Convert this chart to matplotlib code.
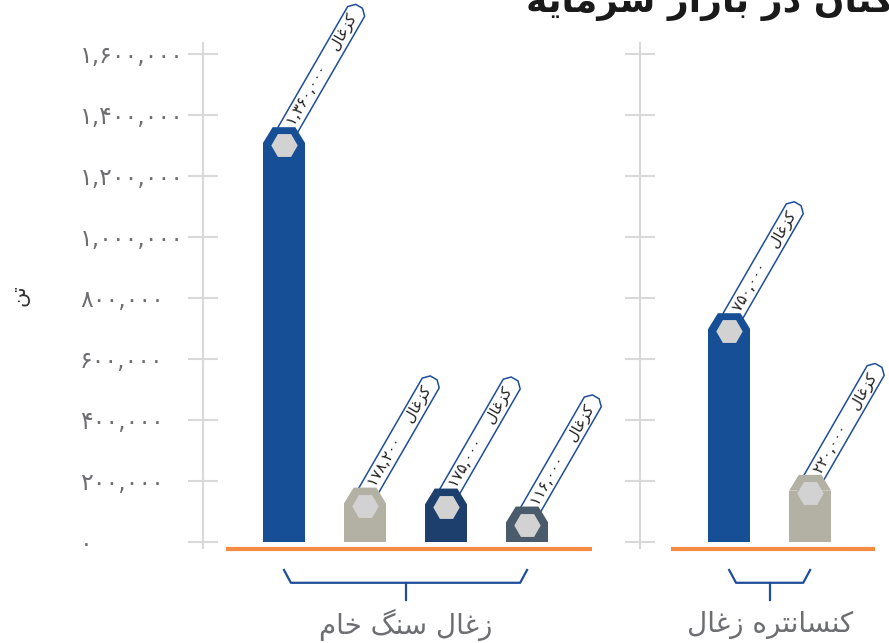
import matplotlib.pyplot as plt
from matplotlib.path import Path

# chart data
title = 'کنان در بازار سرمایه'
y_label = 'تن'
groups = ['زغال سنگ خام', 'کنسانتره زغال']
unit_word = 'کزغال'
raw_values = [1360000, 178200, 175000, 116000]
raw_colors = ['#174f96', '#b3b0a4', '#1d3f6e', '#4a5b6c']
conc_values = [750000, 220000]
conc_colors = ['#174f96', '#b3b0a4']
y_ticks = [0, 200000, 400000, 600000, 800000, 1000000, 1200000, 1400000, 1600000]

FA_DIGITS = str.maketrans('0123456789', '۰۱۲۳۴۵۶۷۸۹')

# arabic presentation forms: isolated, final, initial, medial
FORMS = {
    'ا': (0xFE8D, 0xFE8E, None, None),
    'ب': (0xFE8F, 0xFE90, 0xFE91, 0xFE92),
    'ت': (0xFE95, 0xFE96, 0xFE97, 0xFE98),
    'خ': (0xFEA5, 0xFEA6, 0xFEA7, 0xFEA8),
    'د': (0xFEA9, 0xFEAA, None, None),
    'ر': (0xFEAD, 0xFEAE, None, None),
    'ز': (0xFEAF, 0xFEB0, None, None),
    'س': (0xFEB1, 0xFEB2, 0xFEB3, 0xFEB4),
    'غ': (0xFECD, 0xFECE, 0xFECF, 0xFED0),
    'ل': (0xFEDD, 0xFEDE, 0xFEDF, 0xFEE0),
    'م': (0xFEE1, 0xFEE2, 0xFEE3, 0xFEE4),
    'ن': (0xFEE5, 0xFEE6, 0xFEE7, 0xFEE8),
    'ه': (0xFEE9, 0xFEEA, 0xFEEB, 0xFEEC),
    'ک': (0xFB8E, 0xFB8F, 0xFB90, 0xFB91),
    'گ': (0xFB92, 0xFB93, 0xFB94, 0xFB95),
    'ی': (0xFBFC, 0xFBFD, 0xFBFE, 0xFBFF),
}


def shape(s):
    # join letters and return in visual (left to right) order
    out = []
    for i, ch in enumerate(s):
        if ch not in FORMS:
            out.append(ch)
            continue
        prev = s[i - 1] if i > 0 else None
        nxt = s[i + 1] if i + 1 < len(s) else None
        p = prev in FORMS and FORMS[prev][2] is not None
        n = nxt in FORMS and FORMS[ch][2] is not None
        iso, fin, ini, med = FORMS[ch]
        if p and n:
            c = med
        elif p:
            c = fin
        elif n:
            c = ini
        else:
            c = iso
        out.append(chr(c))
    return ''.join(out)[::-1]


def fa_num(v):
    return f'{v:,}'.translate(FA_DIGITS)


def band(x0, y0, width, height, mutation_size):
    # flag shaped label box, pointed at the far end
    pad = 0.3 * mutation_size
    x0 -= 1.6 * mutation_size
    width += 1.6 * mutation_size + pad
    y0 -= 0.15 * mutation_size
    height += 0.3 * mutation_size
    x1, y1 = x0 + width, y0 + height
    t = height * 0.3
    verts = [(x0, y0), (x1, y0), (x1 + t, y0 + t), (x1 + t, y1 - t), (x1, y1), (x0, y1), (x0, y0)]
    codes = [Path.MOVETO] + [Path.LINETO] * 5 + [Path.CLOSEPOLY]
    return Path(verts, codes)


blue = '#1f4e99'
grid_grey = '#d9d9d9'
text_grey = '#6d6e71'
orange = '#f58a42'
bar_w = 0.52
cap_dx = 0.12
cap_dy = 52000
hex_dy = 59000

fig = plt.figure(figsize=(8.89, 6.43), dpi=100)
ax1 = fig.add_axes([0.2283, 0.1477, 0.4466, 0.7854])
ax2 = fig.add_axes([0.72, 0.1477, 0.2801, 0.7854])


def draw_group(ax, values, colors, name):
    xs = list(range(len(values)))
    ax.bar(xs, [v - cap_dy for v in values], width=bar_w, color=colors, zorder=3)
    for x, v, c in zip(xs, values, colors):
        ax.fill([x - bar_w / 2, x - bar_w / 2 + cap_dx, x + bar_w / 2 - cap_dx, x + bar_w / 2],
                [v - cap_dy, v, v, v - cap_dy], color=c, lw=0, zorder=3)
        ax.plot(x, v - hex_dy, marker='H', ms=19, color='#d2d2d2', mec='none', zorder=4)
        txt = fa_num(v) + '    ' + shape(unit_word)
        ax.annotate(txt, xy=(x, v), xytext=(5, 2), textcoords='offset points',
                    rotation=60, rotation_mode='anchor', ha='left', va='center',
                    fontsize=11, color='#222222', zorder=2, annotation_clip=False,
                    bbox=dict(boxstyle=band, fc='white', ec=blue, lw=1.1))
    # orange baseline
    ax.plot([-0.72, xs[-1] + 0.8], [-23000, -23000], color=orange, lw=3,
            solid_capstyle='butt', clip_on=False, zorder=3)
    # bracket under the group
    lo, hi, mid = 0, xs[-1], xs[-1] / 2
    ax.plot([lo, lo + 0.085, hi - 0.085, hi], [-92000, -134000, -134000, -92000],
            color=blue, lw=1.6, clip_on=False)
    ax.plot([mid, mid], [-134000, -190000], color=blue, lw=1.6, clip_on=False)
    ax.text(mid, -272000, shape(name), ha='center', va='center', fontsize=20,
            color=text_grey, clip_on=False)


draw_group(ax1, raw_values, raw_colors, groups[0])
draw_group(ax2, conc_values, conc_colors, groups[1])

ax1.set_xlim(-1.0, 3.9)
ax2.set_xlim(-1.1, 1.975)
for ax in (ax1, ax2):
    ax.set_ylim(-20000, 1636000)
    for s in ('top', 'right', 'bottom'):
        ax.spines[s].set_visible(False)
    ax.spines['left'].set_color(grid_grey)
    ax.spines['left'].set_linewidth(1.5)
    ax.set_xticks([])
    ax.tick_params(axis='y', direction='inout', length=21.6, width=1.5, color=grid_grey)

ax1.set_yticks(y_ticks, [fa_num(t) for t in y_ticks], ha='left', fontsize=17, color=text_grey)
ax1.tick_params(axis='y', pad=77.8)
ax2.set_yticks(y_ticks, [''] * len(y_ticks))

fig.text(0.022, 0.541, shape(y_label), rotation=90, ha='center', va='center',
         fontsize=15, color='#333333')
fig.text(1.005, 0.981, shape(title), ha='right', va='baseline', fontsize=26,
         fontweight='bold', color='#1a1a1a')

fig.savefig('out.png', dpi=100)
